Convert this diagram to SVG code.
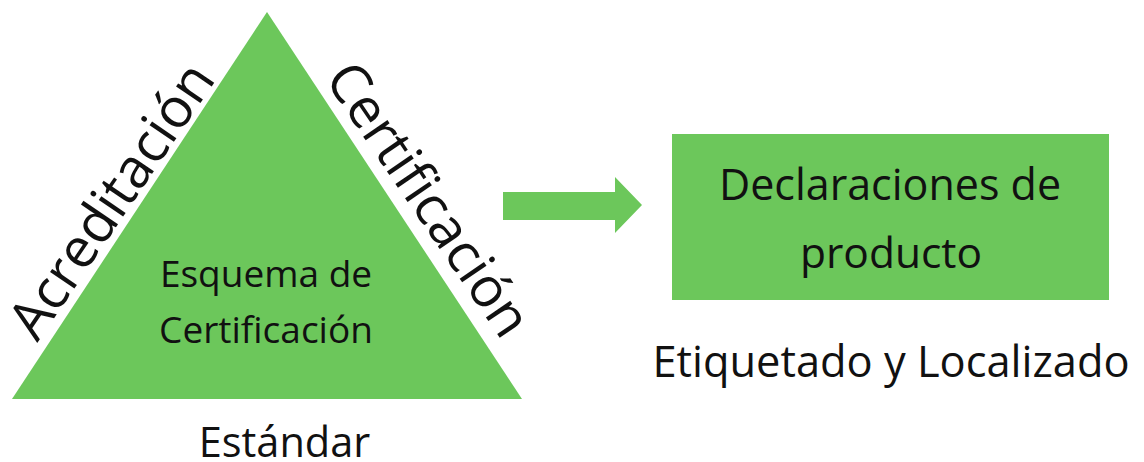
<svg xmlns="http://www.w3.org/2000/svg" width="1144" height="462" viewBox="0 0 1144 462">
<style>
.g{fill:#6cc75b}
.t{font-family:"Open Sans","Noto Sans",sans-serif;fill:#111}
.m{text-anchor:middle}
</style>
<rect width="1144" height="462" fill="#fff"/>
<g id="triangle">
<polygon class="g" points="267,12 522,399 12,399"/>
<text class="t m" x="266" y="287" font-size="37">Esquema de</text>
<text class="t m" x="266" y="343" font-size="37">Certificación</text>
</g>
<g id="label-acreditacion">
<text class="t m" font-size="55" transform="translate(127,211) rotate(-55.8)">Acreditación</text>
</g>
<g id="label-certificacion">
<text class="t m" font-size="55" transform="translate(413,210) rotate(55.8)">Certificación</text>
</g>
<g id="label-estandar">
<text class="t m" x="284.5" y="457" font-size="41.5">Estándar</text>
</g>
<g id="connectors">
<polygon class="g" points="503,192 615,192 615,177 642,205 615,233 615,220 503,220"/>
</g>
<g id="declaraciones">
<rect class="g" x="672" y="134" width="437" height="166"/>
<text class="t m" x="890" y="200" font-size="43">Declaraciones de</text>
<text class="t m" x="891" y="268" font-size="42.5">producto</text>
</g>
<g id="label-etiquetado">
<text class="t m" x="891" y="377" font-size="43.4">Etiquetado y Localizado</text>
</g>
</svg>
